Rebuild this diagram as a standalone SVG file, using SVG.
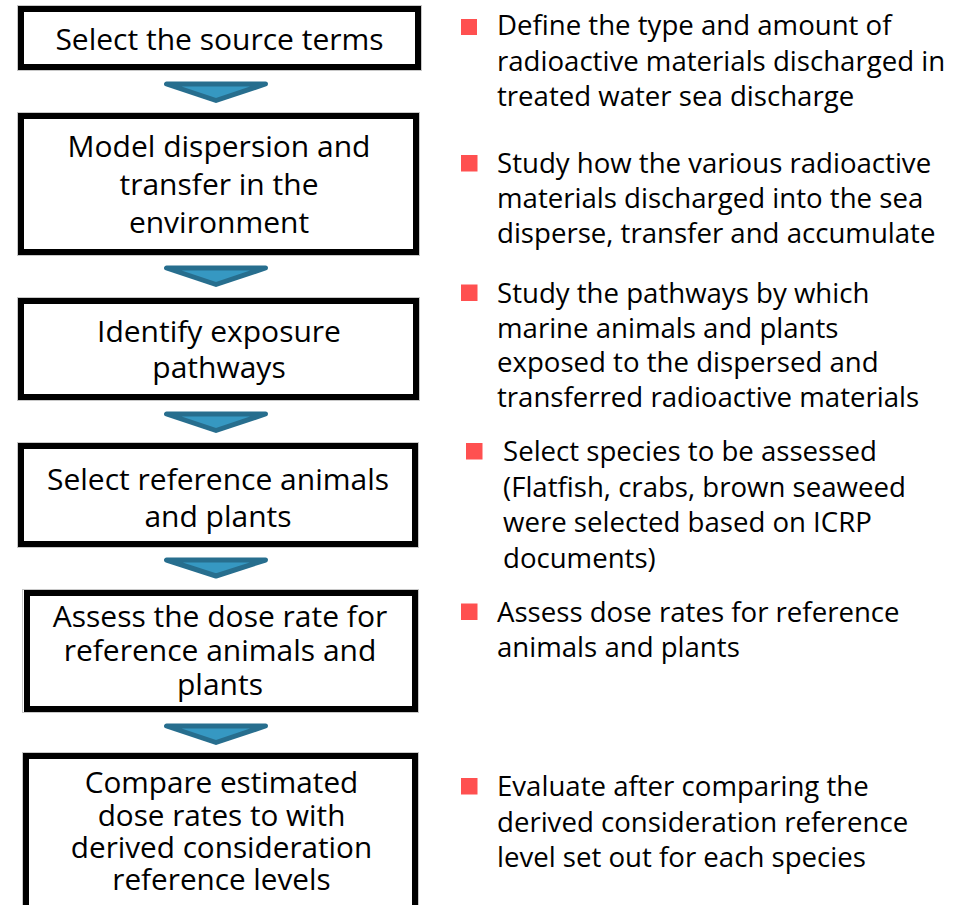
<svg xmlns="http://www.w3.org/2000/svg" width="963" height="905" viewBox="0 0 963 905">
  <style>
    .box { fill: #ffffff; stroke: #000000; stroke-width: 6; }
    .halo { fill: none; stroke: #c8c8c8; stroke-width: 1; }
    .step { font-family: "Open Sans", "Noto Sans", "DejaVu Sans", sans-serif; font-size: 30px; fill: #000000; text-anchor: middle; }
    .tight { font-size: 29.7px; }
    .note { font-family: "Open Sans", "Noto Sans", "DejaVu Sans", sans-serif; font-size: 27.6px; fill: #000000; }
    .bullet { fill: #ff5050; }
    .flow { fill: #3698c2; stroke: #276e8e; stroke-width: 5; stroke-linejoin: round; }
  </style>
  <rect width="963" height="905" fill="#ffffff"/>

  <!-- process steps -->
  <g id="step-source-terms">
    <rect class="halo" x="17.5" y="5.5" width="404" height="65"/>
    <rect class="box" x="21" y="9" width="397" height="58"/>
    <text class="step" x="219.5" y="50">Select the source terms</text>
  </g>
  <g id="step-dispersion">
    <rect class="halo" x="17.5" y="112.5" width="402" height="143"/>
    <rect class="box" x="21" y="116" width="395" height="136"/>
    <text class="step" x="219" y="157">Model dispersion and</text>
    <text class="step" x="219" y="195">transfer in the</text>
    <text class="step" x="219" y="233">environment</text>
  </g>
  <g id="step-pathways">
    <rect class="halo" x="17.5" y="297.5" width="402" height="103"/>
    <rect class="box" x="21" y="301" width="395" height="96"/>
    <text class="step" x="219" y="342">Identify exposure</text>
    <text class="step" x="219" y="378">pathways</text>
  </g>
  <g id="step-reference-organisms">
    <rect class="halo" x="17.5" y="442.5" width="401" height="105"/>
    <rect class="box" x="21" y="446" width="394" height="98"/>
    <text class="step" x="218" y="490">Select reference animals</text>
    <text class="step" x="218" y="527">and plants</text>
  </g>
  <g id="step-dose-rate">
    <rect class="halo" x="22.5" y="589.5" width="396" height="123"/>
    <rect class="box" x="27" y="593" width="388" height="116"/>
    <text class="step" x="220" y="627">Assess the dose rate for</text>
    <text class="step" x="220" y="661">reference animals and</text>
    <text class="step" x="220" y="695">plants</text>
  </g>
  <g id="step-compare">
    <rect class="halo" x="22.5" y="752.5" width="396" height="170"/>
    <rect class="box" x="26" y="756" width="389" height="163"/>
    <text class="step tight" x="221.5" y="793">Compare estimated</text>
    <text class="step tight" x="221.5" y="826">dose rates to with</text>
    <text class="step tight" x="221.5" y="858">derived consideration</text>
    <text class="step tight" x="221.5" y="890">reference levels</text>
  </g>

  <!-- flow arrows between steps -->
  <g id="connectors">
    <polygon class="flow" points="166.5,84 265.5,84 216,100.5"/>
    <polygon class="flow" points="166.5,268 265.5,268 216,284.5"/>
    <polygon class="flow" points="166.5,414 265.5,414 216,430.5"/>
    <polygon class="flow" points="166.5,560 265.5,560 216,576"/>
    <polygon class="flow" points="166.5,726 265.5,726 216,742.5"/>
  </g>

  <!-- explanatory notes -->
  <g id="note-source-terms">
    <rect class="bullet" x="461" y="19" width="16" height="16"/>
    <text class="note" x="497" y="35">Define the type and amount of</text>
    <text class="note" x="497" y="70.5">radioactive materials discharged in</text>
    <text class="note" x="497" y="106">treated water sea discharge</text>
  </g>
  <g id="note-dispersion">
    <rect class="bullet" x="461" y="155" width="16.5" height="16.5"/>
    <text class="note" x="497" y="173">Study how the various radioactive</text>
    <text class="note" x="497" y="208">materials discharged into the sea</text>
    <text class="note" x="497" y="243">disperse, transfer and accumulate</text>
  </g>
  <g id="note-pathways">
    <rect class="bullet" x="461" y="284.5" width="16.5" height="16.5"/>
    <text class="note" x="497" y="303">Study the pathways by which</text>
    <text class="note" x="497" y="337.5">marine animals and plants</text>
    <text class="note" x="497" y="372">exposed to the dispersed and</text>
    <text class="note" x="497" y="407">transferred radioactive materials</text>
  </g>
  <g id="note-reference-organisms">
    <rect class="bullet" x="466" y="443" width="16.5" height="16.5"/>
    <text class="note" x="503" y="461">Select species to be assessed</text>
    <text class="note" x="503" y="496.5">(Flatfish, crabs, brown seaweed</text>
    <text class="note" x="503" y="532">were selected based on ICRP</text>
    <text class="note" x="503" y="567.5">documents)</text>
  </g>
  <g id="note-dose-rate">
    <rect class="bullet" x="461" y="603.5" width="16.5" height="16.5"/>
    <text class="note" x="497" y="622">Assess dose rates for reference</text>
    <text class="note" x="497" y="657">animals and plants</text>
  </g>
  <g id="note-compare">
    <rect class="bullet" x="461" y="778" width="16.5" height="16.5"/>
    <text class="note" x="497" y="796">Evaluate after comparing the</text>
    <text class="note" x="497" y="832">derived consideration reference</text>
    <text class="note" x="497" y="867">level set out for each species</text>
  </g>
</svg>
